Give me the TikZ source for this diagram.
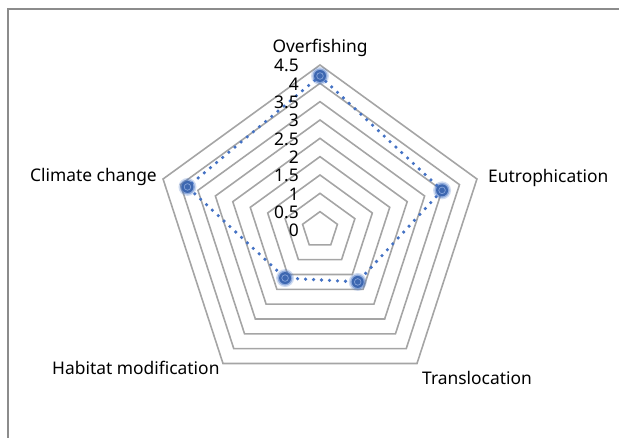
\documentclass[tikz,border=0pt]{standalone}
\usepackage{fontspec}
\setmainfont{Noto Sans}
\definecolor{gridgray}{HTML}{A5A5A5}
\definecolor{framegray}{HTML}{8C8C8C}
\definecolor{serblue}{HTML}{4472C4}
\begin{document}
\begin{tikzpicture}[x=1pt,y=1pt,
  gridline/.style={draw=gridgray, line width=1.6pt, line join=miter},
  series/.style={draw=serblue, line width=3.6pt, line cap=round, dash pattern=on 0pt off 8pt},
  axislbl/.style={font=\fontsize{17.4}{20}\selectfont, inner sep=0pt},
  ticklbl/.style={font=\fontsize{17.4}{20}\selectfont, inner sep=0pt, anchor=base east}]
\useasboundingbox (0,0) rectangle (619,-438);
\draw[draw=framegray, line width=1.3pt] (8,-438) -- (8,-9) -- (619,-9);
\coordinate (c) at (320,-230);
\begin{scope}[shift={(320,-230)}]
  \foreach \v in {0.5,1,...,4.5} {
    \draw[gridline] (90:{\v*36.67}) -- (18:{\v*36.67}) -- (-54:{\v*36.67}) -- (-126:{\v*36.67}) -- (162:{\v*36.67}) -- cycle;
  }
  \coordinate (p1) at (90:{4.2*36.67});
  \coordinate (p2) at (18:{3.5*36.67});
  \coordinate (p3) at (-54:{1.75*36.67});
  \coordinate (p4) at (-126:{1.62*36.67});
  \coordinate (p5) at (162:{3.8*36.67});
\end{scope}
\draw[series] (p1) -- (p2) -- (p3) -- (p4) -- (p5) -- cycle;
\foreach \p in {p1,p2,p3,p4,p5} {
  \fill[serblue, opacity=0.25] (\p) circle (9);
  \fill[serblue, opacity=0.45] (\p) circle (7.5);
  \fill[serblue!90!black] (\p) circle (6);
  \draw[serblue!65!white, line width=0.7pt] (\p) circle (3.3);
}
\foreach \v [count=\i] in {0,0.5,1,1.5,2,2.5,3,3.5,4,4.5} {
  \node[ticklbl] (t\i) at (299,{-237+36.67*\v}) {\v};
}
\node[axislbl, anchor=base] (lOver) at (320,-53) {Overfishing};
\node[axislbl, anchor=base west] (lEut) at (488,-183) {Eutrophication};
\node[axislbl, anchor=base east] (lClim) at (157,-182) {Climate change};
\node[axislbl, anchor=base west] (lHab) at (52,-375) {Habitat modification};
\node[axislbl, anchor=base west] (lTrans) at (422,-385) {Translocation};
\end{tikzpicture}
\end{document}
